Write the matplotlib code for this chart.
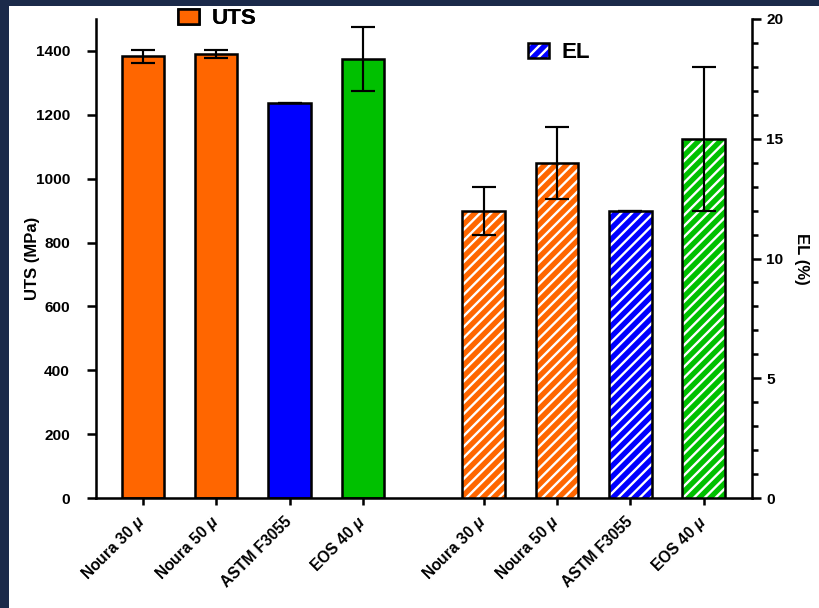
import matplotlib
matplotlib.use("Agg")
import matplotlib.pyplot as plt
from matplotlib.patches import Patch, Rectangle

# ---- data ----
samples = ["Noura 30 $\\mu$", "Noura 50 $\\mu$", "ASTM F3055", "EOS 40 $\\mu$"]
uts_mean = [1383, 1390, 1236, 1375]
uts_err = [20, 12, 0, 100]
el_mean = [12.0, 14.0, 12.0, 15.0]
el_err = [1.0, 1.5, 0.0, 3.0]
bar_colors = ["#FF6600", "#FF6600", "#0000FF", "#00C000"]

uts_pos = [0, 1, 2, 3]
el_pos = [4.65, 5.65, 6.65, 7.65]

DPI = 130
plt.rcParams["font.family"] = ["Liberation Sans", "DejaVu Sans"]
plt.rcParams["font.weight"] = "bold"
plt.rcParams["mathtext.fontset"] = "custom"
plt.rcParams["mathtext.it"] = "Liberation Sans:italic:bold"
plt.rcParams["mathtext.rm"] = "Liberation Sans:bold"
plt.rcParams["hatch.linewidth"] = 1.3

HATCH = "////"

fig = plt.figure(figsize=(819 / DPI, 608 / DPI), dpi=DPI, facecolor="#1b2a4a")
fig.patches.append(Rectangle((9 / 819, 0), 1, 1 - 6 / 608, transform=fig.transFigure,
                             facecolor="white", edgecolor="none", zorder=-10))

ax = fig.add_axes([96 / 819, 1 - 498 / 608, (752 - 96) / 819, (498 - 19) / 608])
ax.set_facecolor("none")
ax2 = ax.twinx()

W = 0.58
LW = 1.4
ELW = 1.2

# UTS bars (left axis)
ax.bar(uts_pos, uts_mean, width=W, color=bar_colors, edgecolor="black", linewidth=LW, zorder=2)
ax.errorbar(uts_pos, uts_mean, yerr=uts_err, fmt="none", ecolor="black",
            elinewidth=ELW, capsize=6.6, capthick=ELW, zorder=3)

# EL bars (right axis): white-striped fill, then black outline
ax2.bar(el_pos, el_mean, width=W, color=bar_colors, edgecolor="white", hatch=HATCH,
        linewidth=0, zorder=2)
ax2.bar(el_pos, el_mean, width=W, facecolor="none", edgecolor="black", linewidth=LW, zorder=3)
ax2.errorbar(el_pos, el_mean, yerr=el_err, fmt="none", ecolor="black",
             elinewidth=ELW, capsize=6.6, capthick=ELW, zorder=4)

ax.set_xlim(-0.64, 8.31)
ax.set_ylim(0, 1500)
ax2.set_ylim(0, 20)

ax.set_yticks(range(0, 1401, 200))
ax2.set_yticks([0, 5, 10, 15, 20])
ax2.set_yticks(range(0, 21), minor=True)

ax.set_xticks(uts_pos + el_pos)
ax.set_xticklabels(samples + samples, rotation=45, ha="right", va="center",
                   rotation_mode="anchor", fontsize=8.7, fontweight="bold")

for s in ["top", "right"]:
    ax.spines[s].set_visible(False)
for s in ["top", "left", "bottom"]:
    ax2.spines[s].set_visible(False)
for s in ["left", "bottom"]:
    ax.spines[s].set_linewidth(LW)
ax2.spines["right"].set_linewidth(LW)

ax.tick_params(axis="y", length=5, width=LW, pad=9.4, labelsize=8.5)
ax.tick_params(axis="x", length=3.9, width=LW, pad=8)
ax2.tick_params(axis="y", which="major", length=5, width=LW, pad=2.8, labelsize=8.5)
ax2.tick_params(axis="y", which="minor", length=3.3, width=LW)

ax.set_ylabel("UTS (MPa)", fontsize=9.2, fontweight="bold")
ax.yaxis.set_label_coords(-0.085, 0.5)
ax2.set_ylabel("EL (%)", fontsize=9.2, fontweight="bold", rotation=270, va="bottom")
ax2.yaxis.set_label_coords(1.064, 0.5)

# legends
uts_handle = Patch(facecolor="#FF6600", edgecolor="black", linewidth=LW)
el_handle = (Patch(facecolor="#0000FF", edgecolor="white", hatch=HATCH, linewidth=0),
             Patch(facecolor="none", edgecolor="black", linewidth=LW))
LEG_FS = 12.4
leg1 = ax.legend([uts_handle], ["UTS"], loc="center left",
                 bbox_to_anchor=(178 / 819, 1 - 19 / 608), bbox_transform=fig.transFigure,
                 frameon=False, borderpad=0, borderaxespad=0, handlelength=0.94,
                 handleheight=0.68, handletextpad=0.55,
                 prop={"size": LEG_FS, "weight": "bold"})
ax.add_artist(leg1)
ax2.legend([el_handle], ["EL"], loc="center left",
           bbox_to_anchor=(528 / 819, 1 - 53 / 608), bbox_transform=fig.transFigure,
           frameon=False, borderpad=0, borderaxespad=0, handlelength=0.94,
           handleheight=0.68, handletextpad=0.55,
           prop={"size": LEG_FS, "weight": "bold"})

fig.savefig("out.png", dpi=DPI, facecolor=fig.get_facecolor())
